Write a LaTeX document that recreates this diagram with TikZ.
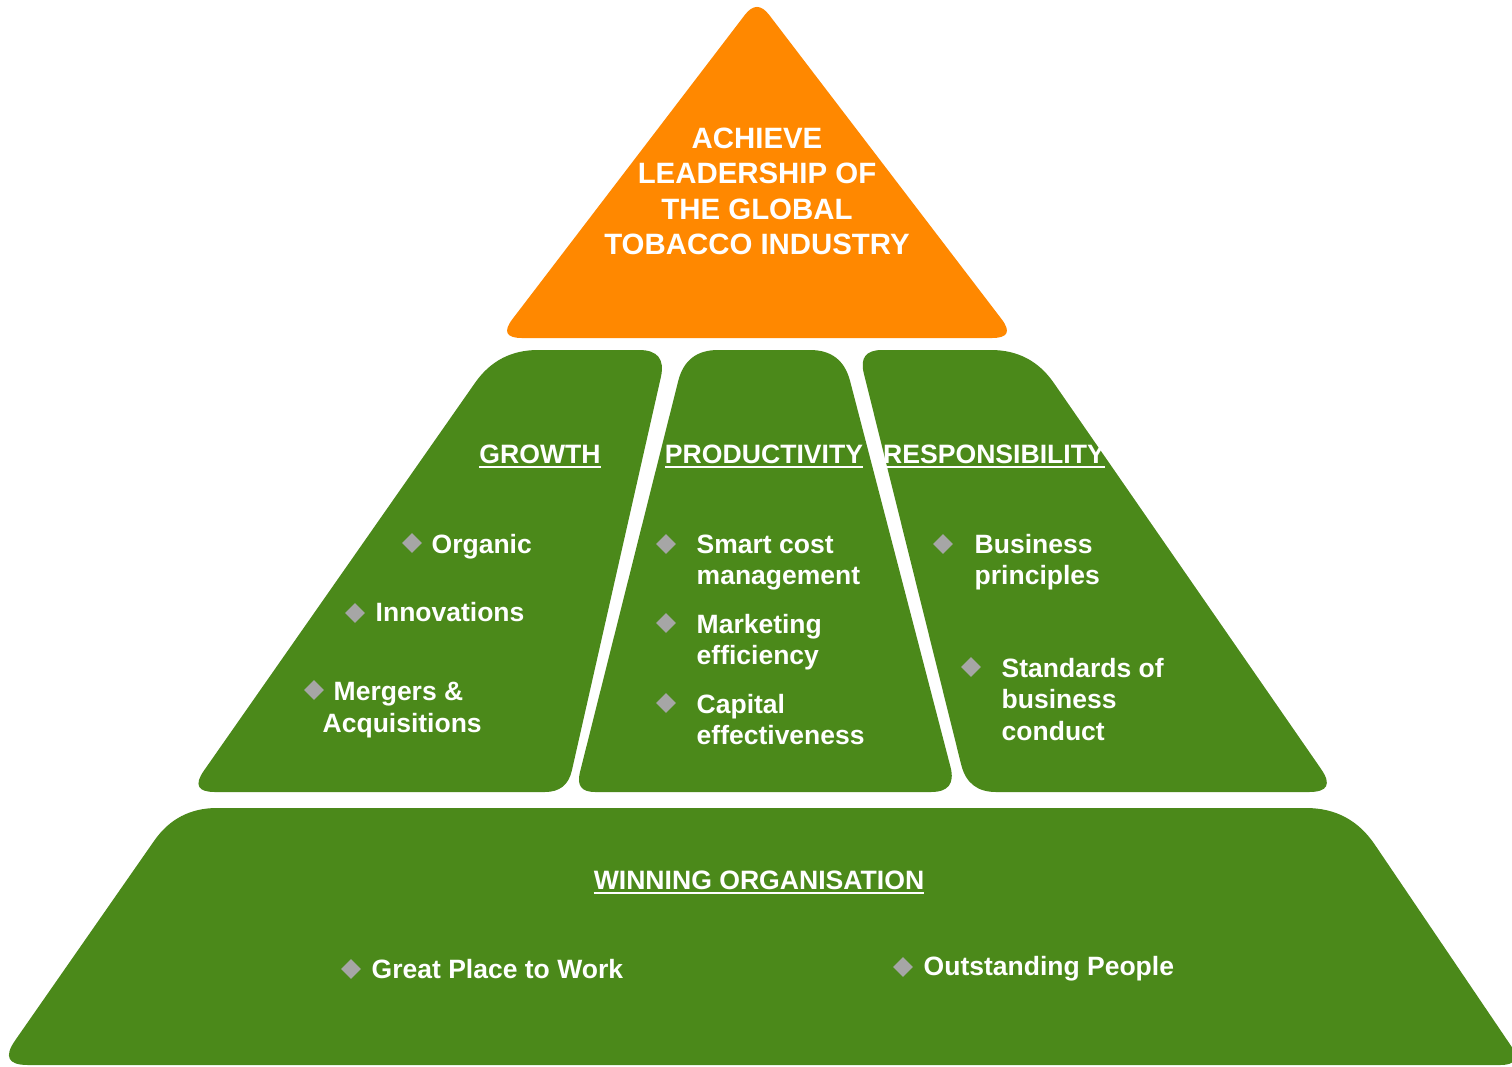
\documentclass[tikz,border=0pt]{standalone}
\usepackage{fontspec}
\setmainfont{Liberation Sans}
\usetikzlibrary{calc,shapes.geometric}
\definecolor{leafgreen}{RGB}{75,137,26}
\definecolor{apexorange}{RGB}{255,136,0}
\definecolor{bulletgrey}{RGB}{166,166,166}
% rounded corner at #2, coming from #1 and leaving towards #3, cut back by #4 (pt)
\newcommand\softcorner[4]{($(#2)!#4pt!(#1)$) .. controls ($(#2)!#4pt/3!(#1)$)
  and ($(#2)!#4pt/3!(#3)$) .. ($(#2)!#4pt!(#3)$)}
\begin{document}
\begin{tikzpicture}[x=1pt,y=-1pt,
  goal/.style={font=\fontsize{29.4}{35.5}\selectfont\bfseries, text=white, inner sep=0pt, anchor=base},
  heading/.style={font=\fontsize{26.6}{31}\selectfont\bfseries, text=white, inner sep=0pt, anchor=base},
  item/.style={font=\fontsize{26.5}{31}\selectfont\bfseries, text=white, inner sep=0pt, anchor=base west},
  bullet/.style={diamond, fill=bulletgrey, inner sep=0pt, minimum width=20pt, minimum height=20pt},
  rule/.style={white, line width=2pt}]
\useasboundingbox (0,0) rectangle (1512,1066);
\fill[white] (0,0) rectangle (1512,1066);
\clip (0,0) rectangle (1512,1066);

% apex triangle
\coordinate (oT) at (757,-1);
\coordinate (oL) at (498,338);
\coordinate (oR) at (1016,338);
\fill[apexorange] \softcorner{oR}{oT}{oL}{20} -- \softcorner{oT}{oL}{oR}{24}
  -- \softcorner{oL}{oR}{oT}{24} -- cycle;

% growth block
\coordinate (g1) at (498,350);
\coordinate (g2) at (667,350);
\coordinate (g3) at (567,792);
\coordinate (g4) at (189,792);
\fill[leafgreen] \softcorner{g4}{g1}{g2}{40} -- \softcorner{g1}{g2}{g3}{28}
  -- \softcorner{g2}{g3}{g4}{22} -- \softcorner{g3}{g4}{g1}{26} -- cycle;

% productivity block
\coordinate (m1) at (686,350);
\coordinate (m2) at (842,350);
\coordinate (m3) at (957,792);
\coordinate (m4) at (575,792);
\fill[leafgreen] \softcorner{m4}{m1}{m2}{32} -- \softcorner{m1}{m2}{m3}{32}
  -- \softcorner{m2}{m3}{m4}{26} -- \softcorner{m3}{m4}{m1}{20} -- cycle;

% responsibility block
\coordinate (r1) at (858,350);
\coordinate (r2) at (1031,350);
\coordinate (r3) at (1337,792);
\coordinate (r4) at (968,792);
\fill[leafgreen] \softcorner{r4}{r1}{r2}{24} -- \softcorner{r1}{r2}{r3}{40}
  -- \softcorner{r2}{r3}{r4}{28} -- \softcorner{r3}{r4}{r1}{28} -- cycle;

% base block
\coordinate (b1) at (177,808);
\coordinate (b2) at (1350,808);
\coordinate (b3) at (1524,1065);
\coordinate (b4) at (-2,1065);
\fill[leafgreen] \softcorner{b4}{b1}{b2}{40} -- \softcorner{b1}{b2}{b3}{44}
  -- \softcorner{b2}{b3}{b4}{24} -- \softcorner{b3}{b4}{b1}{30} -- cycle;

% goal text
\node[goal] (goal1) at (757,148) {ACHIEVE};
\node[goal] (goal2) at (757,183.5) {LEADERSHIP OF};
\node[goal] (goal3) at (757,219) {THE GLOBAL};
\node[goal] (goal4) at (757,254.5) {TOBACCO INDUSTRY};

% headings
\node[heading] (hgrowth) at (540,463) {GROWTH};
\node[heading] (hprod) at (764,463) {PRODUCTIVITY};
\node[heading] (hresp) at (994,463) {RESPONSIBILITY};
\node[heading] (hwin) at (759,889) {WINNING ORGANISATION};
\foreach \h in {hgrowth,hprod,hresp,hwin}
  \draw[rule] ([yshift=-3.5pt]\h.base west) -- ([yshift=-3.5pt]\h.base east);

% growth items
\node[bullet] (gb1) at (412,543) {};
\node[item] (gt1) at (431.5,553) {Organic};
\node[bullet] (gb2) at (355,613) {};
\node[item] (gt2) at (375.5,621.5) {Innovations};
\node[bullet] (gb3) at (314,690) {};
\node[item] (gt3) at (333.5,700) {Mergers \&};
\node[item] (gt3b) at (322.5,732) {Acquisitions};

% productivity items
\node[bullet] (pb1) at (666,544) {};
\node[item] (pt1) at (696.5,553) {Smart cost};
\node[item] (pt1b) at (696.5,584) {management};
\node[bullet] (pb2) at (666,623) {};
\node[item] (pt2) at (696.5,633) {Marketing};
\node[item] (pt2b) at (696.5,664) {efficiency};
\node[bullet] (pb3) at (666,703) {};
\node[item] (pt3) at (696.5,713) {Capital};
\node[item] (pt3b) at (696.5,744) {effectiveness};

% responsibility items
\node[bullet] (rb1) at (943,544) {};
\node[item] (rt1) at (974.5,553) {Business};
\node[item] (rt1b) at (974.5,584) {principles};
\node[bullet] (rb2) at (971,667) {};
\node[item] (rt2) at (1001.5,677) {Standards of};
\node[item] (rt2b) at (1001.5,708) {business};
\node[item] (rt2c) at (1001.5,740) {conduct};

% base items
\node[bullet] (wb1) at (351,969) {};
\node[item] (wt1) at (371.5,978) {Great Place to Work};
\node[bullet] (wb2) at (903,967) {};
\node[item] (wt2) at (923.5,975) {Outstanding People};
\end{tikzpicture}
\end{document}
